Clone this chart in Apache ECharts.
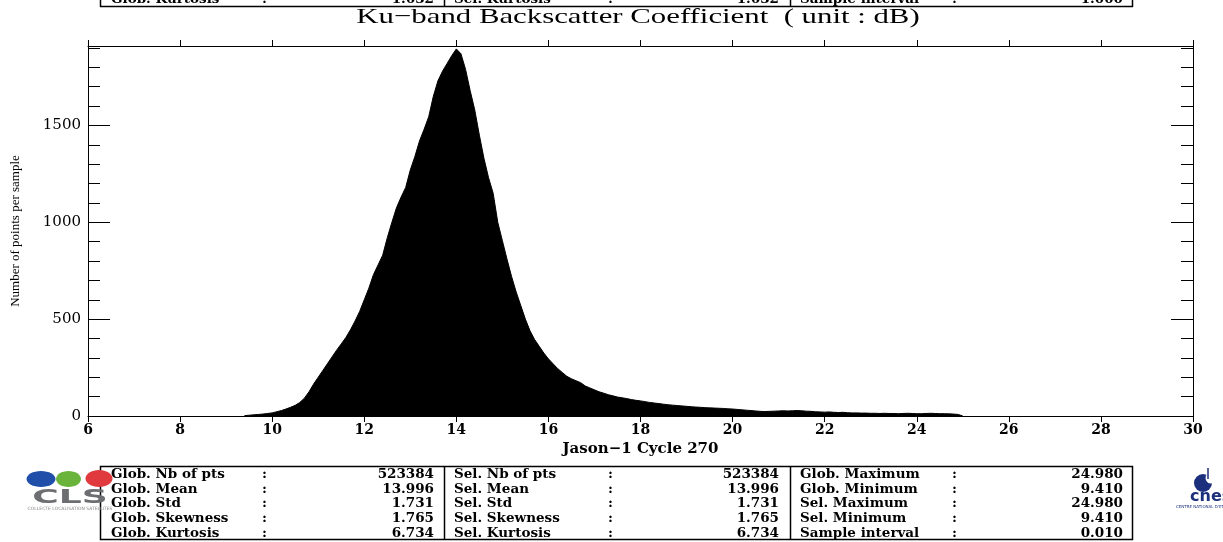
<!DOCTYPE html>
<html>
<head>
<meta charset="utf-8">
<script src="https://cdn.jsdelivr.net/npm/echarts@6/dist/echarts.min.js"></script>
<style>
  html, body { margin: 0; padding: 0; background: #fff; }
  #main { width: 1223px; height: 542px; }
</style>
</head>
<body>
<div id="main"></div>
<script>
// histogram samples: start value and spacing (dB), counts
var binStart = 9.4;
var binWidth = 0.1;
var counts = [
    2, 4, 6, 8, 10, 13,                                   // 9.4 - 9.9
    16, 22, 28, 36, 45, 55, 70, 92, 125, 165,             // 10.0 - 10.9
    200, 235, 270, 305, 340, 372, 405, 445, 490, 540,     // 11.0 - 11.9
    600, 660, 730, 780, 830, 920, 1000, 1075, 1130, 1180, // 12.0 - 12.9
    1270, 1340, 1420, 1480, 1545, 1650, 1730, 1780, 1820, 1860, // 13.0 - 13.9
    1895, 1870, 1790, 1680, 1580, 1450, 1330, 1230, 1150, 1000, // 14.0 - 14.9
    905, 810, 720, 640, 570, 500, 440, 395, 360, 325,     // 15.0 - 15.9
    295, 270, 245, 225, 205, 192, 182, 172, 155, 145,     // 16.0 - 16.9
    135, 125, 118, 110, 104, 98, 94, 90, 85, 81,          // 17.0 - 17.9
    78, 74, 70, 67, 64, 61, 58, 56, 54, 52,               // 18.0 - 18.9
    50, 48, 46, 45, 43, 42, 41, 40, 39, 37,               // 19.0 - 19.9
    36, 34, 32, 30, 28, 26, 24, 23, 24, 25,               // 20.0 - 20.9
    26, 27, 26, 27, 28, 27, 25, 24, 22, 21,               // 21.0 - 21.9
    20, 21, 19, 18, 19, 17, 16, 16, 15, 15,               // 22.0 - 22.9
    14, 14, 13, 14, 13, 13, 12, 13, 14, 13,               // 23.0 - 23.9
    12, 12, 13, 14, 13, 12, 12, 11, 10, 8,                // 24.0 - 24.9
    0                                                     // 25.0
];

var xTicks = [6, 30, 2];          // min, max, step
var yMax = 1910;

// statistics tables
var col1Names = ['Glob. Nb of pts', 'Glob. Mean', 'Glob. Std', 'Glob. Skewness', 'Glob. Kurtosis'];
var col1Values = ['523384', '13.996', '1.731', '1.765', '6.734'];
var col2Names = ['Sel. Nb of pts', 'Sel. Mean', 'Sel. Std', 'Sel. Skewness', 'Sel. Kurtosis'];
var col2Values = ['523384', '13.996', '1.731', '1.765', '6.734'];
var col3Names = ['Glob. Maximum', 'Glob. Minimum', 'Sel. Maximum', 'Sel. Minimum', 'Sample interval'];
var col3Values = ['24.980', '9.410', '24.980', '9.410', '0.010'];
// the table of the previous plot, cut at the top of the page
var prevRowNames = ['Glob. Kurtosis', 'Sel. Kurtosis', 'Sample interval'];
var prevRowValues = ['1.632', '1.632', '1.000'];

var serif = '"Liberation Serif", "Times New Roman", serif';
var wideSerif = '"DejaVu Serif", serif';
var tableFont = 'bold 13.5px ' + wideSerif;

var seriesData = [];
for (var i = 0; i < counts.length; i++) {
    seriesData.push([binStart + i * binWidth, counts[i]]);
}

function tableTexts(names, values, xName, xColon, xValue, rowsY) {
    var out = [];
    for (var i = 0; i < names.length; i++) {
        var y = rowsY[i];
        out.push({type: 'text', x: xName, y: y, style: {text: names[i], font: tableFont, fill: '#000', textVerticalAlign: 'middle'}});
        out.push({type: 'text', x: xColon, y: y, style: {text: ':', font: tableFont, fill: '#000', textVerticalAlign: 'middle'}});
        out.push({type: 'text', x: xValue, y: y, style: {text: values[i], font: tableFont, fill: '#000', textAlign: 'right', textVerticalAlign: 'middle'}});
    }
    return out;
}

var rowsY = [474, 489, 503.5, 518, 533];
var graphics = [];

// title, stretched like the original print
graphics.push({
    type: 'text', x: 638, y: 17, scaleX: 1.4, scaleY: 1,
    style: {text: 'Ku\u2212band Backscatter Coefficient  ( unit : dB)', font: '22px ' + serif, fill: '#000', textAlign: 'center', textVerticalAlign: 'middle'}
});

// bottom table frame
graphics.push({type: 'rect', shape: {x: 100.5, y: 466.5, width: 1032, height: 73}, style: {fill: 'none', stroke: '#000', lineWidth: 1.5}});
graphics.push({type: 'line', shape: {x1: 444.5, y1: 466, x2: 444.5, y2: 540}, style: {stroke: '#000', lineWidth: 1.5}});
graphics.push({type: 'line', shape: {x1: 790.5, y1: 466, x2: 790.5, y2: 540}, style: {stroke: '#000', lineWidth: 1.5}});
graphics = graphics.concat(tableTexts(col1Names, col1Values, 111, 262, 434, rowsY));
graphics = graphics.concat(tableTexts(col2Names, col2Values, 454, 608, 779, rowsY));
graphics = graphics.concat(tableTexts(col3Names, col3Values, 800, 952, 1123, rowsY));

// top (cut) table
graphics.push({type: 'line', shape: {x1: 100, y1: 6.5, x2: 1133, y2: 6.5}, style: {stroke: '#000', lineWidth: 1.5}});
graphics.push({type: 'line', shape: {x1: 100.5, y1: 0, x2: 100.5, y2: 7}, style: {stroke: '#000', lineWidth: 1.5}});
graphics.push({type: 'line', shape: {x1: 444.5, y1: 0, x2: 444.5, y2: 7}, style: {stroke: '#000', lineWidth: 1.5}});
graphics.push({type: 'line', shape: {x1: 790.5, y1: 0, x2: 790.5, y2: 7}, style: {stroke: '#000', lineWidth: 1.5}});
graphics.push({type: 'line', shape: {x1: 1132.5, y1: 0, x2: 1132.5, y2: 7}, style: {stroke: '#000', lineWidth: 1.5}});
graphics = graphics.concat(tableTexts([prevRowNames[0]], [prevRowValues[0]], 111, 262, 434, [-1]));
graphics = graphics.concat(tableTexts([prevRowNames[1]], [prevRowValues[1]], 454, 608, 779, [-1]));
graphics = graphics.concat(tableTexts([prevRowNames[2]], [prevRowValues[2]], 800, 952, 1123, [-1]));

// CLS logo
graphics.push({type: 'ellipse', shape: {cx: 41, cy: 479, rx: 14.5, ry: 8}, style: {fill: '#1f4fa8'}});
graphics.push({type: 'ellipse', shape: {cx: 68.5, cy: 479, rx: 12.5, ry: 8}, style: {fill: '#6ab43c'}});
graphics.push({type: 'ellipse', shape: {cx: 99, cy: 478.5, rx: 13.5, ry: 8.5}, style: {fill: '#e0393e'}});
graphics.push({
    type: 'text', x: 70, y: 498.5, scaleX: 1.9, scaleY: 1,
    style: {text: 'CLS', font: 'bold 19px "DejaVu Sans", sans-serif', fill: '#6d6e71', textAlign: 'center', textVerticalAlign: 'middle'}
});
graphics.push({type: 'text', x: 70, y: 509, style: {text: 'COLLECTE LOCALISATION SATELLITES', font: '4.5px "DejaVu Sans", sans-serif', fill: '#888', textAlign: 'center', textVerticalAlign: 'middle'}});

// cnes logo
graphics.push({type: 'circle', shape: {cx: 1203, cy: 483, r: 9}, style: {fill: '#1c2f7c'}});
graphics.push({type: 'circle', shape: {cx: 1211, cy: 478, r: 5.5}, style: {fill: '#fff'}});
graphics.push({type: 'line', shape: {x1: 1208, y1: 468, x2: 1208, y2: 479}, style: {stroke: '#1c2f7c', lineWidth: 1.5}});
graphics.push({type: 'text', x: 1190, y: 497, style: {text: 'cnes', font: 'bold 16px "DejaVu Sans", sans-serif', fill: '#1c2f7c', textVerticalAlign: 'middle'}});
graphics.push({type: 'text', x: 1176, y: 507, style: {text: 'CENTRE NATIONAL D\'ETUDES SPATIALES', font: '4px "DejaVu Sans", sans-serif', fill: '#1c2f7c', textVerticalAlign: 'middle'}});

function yAxisOf(position, interval, tickLen, withLabels) {
    return {
        type: 'value',
        position: position,
        min: 0,
        max: yMax,
        interval: interval,
        name: withLabels ? 'Number of points per sample' : '',
        nameLocation: 'middle',
        nameGap: 66,
        nameTextStyle: {fontFamily: serif, fontSize: 13, color: '#000'},
        axisLine: {show: true, onZero: false, lineStyle: {color: '#000', width: 1}},
        axisTick: {show: true, inside: true, length: tickLen, lineStyle: {color: '#000'}},
        axisLabel: {
            show: withLabels,
            showMaxLabel: false,
            margin: 7,
            fontFamily: wideSerif,
            fontSize: 15,
            color: '#000',
            formatter: function (v) { return String(v); }
        },
        splitLine: {show: false}
    };
}

var myChart = echarts.init(document.getElementById('main'), null, {renderer: 'canvas'});
var option = {
    animation: false,
    backgroundColor: '#fff',
    grid: {left: 88, right: 30, top: 46, bottom: 126, containLabel: false},
    xAxis: [{
        type: 'value',
        position: 'bottom',
        min: xTicks[0],
        max: xTicks[1],
        interval: xTicks[2],
        name: 'Jason\u22121 Cycle 270',
        nameLocation: 'middle',
        nameGap: 24,
        nameTextStyle: {fontFamily: wideSerif, fontSize: 15, fontWeight: 'bold', color: '#000'},
        axisLine: {show: true, onZero: false, lineStyle: {color: '#000', width: 1}},
        axisTick: {show: true, length: 6, lineStyle: {color: '#000'}},
        axisLabel: {margin: 7, fontFamily: wideSerif, fontSize: 14, fontWeight: 'bold', color: '#000'},
        splitLine: {show: false}
    }, {
        type: 'value',
        position: 'top',
        min: xTicks[0],
        max: xTicks[1],
        interval: xTicks[2],
        axisLine: {show: true, onZero: false, lineStyle: {color: '#000', width: 1}},
        axisTick: {show: true, length: 6, lineStyle: {color: '#000'}},
        axisLabel: {show: false},
        splitLine: {show: false}
    }],
    yAxis: [
        yAxisOf('left', 500, 22, true),
        yAxisOf('left', 100, 12, false),
        yAxisOf('right', 500, 22, false),
        yAxisOf('right', 100, 12, false)
    ],
    series: [{
        name: 'Ku-band backscatter',
        type: 'line',
        xAxisIndex: 0,
        yAxisIndex: 0,
        showSymbol: false,
        symbol: 'none',
        lineStyle: {color: '#000', width: 1},
        areaStyle: {color: '#000', opacity: 1},
        data: seriesData
    }],
    graphic: graphics
};
myChart.setOption(option);
</script>
</body>
</html>
